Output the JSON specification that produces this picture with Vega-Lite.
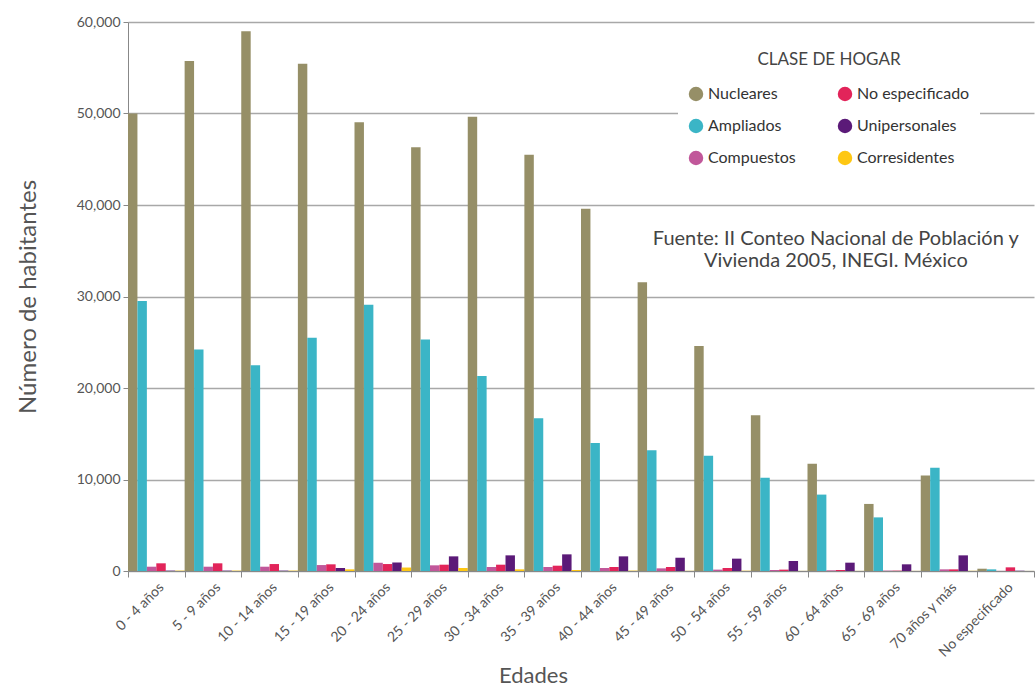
{
  "$schema": "https://vega.github.io/schema/vega-lite/v6.json",
  "width": 906,
  "height": 549,
  "autosize": {"type": "none"},
  "padding": {"left": 128, "top": 22, "right": 2, "bottom": 118},
  "background": "white",
  "config": {"view": {"stroke": null}, "font": "Lato"},
  "data": {
    "values": [
      {"edad": "0 - 4 años", "clase": "Nucleares", "n": 50000},
      {"edad": "0 - 4 años", "clase": "Ampliados", "n": 29500},
      {"edad": "0 - 4 años", "clase": "Compuestos", "n": 470},
      {"edad": "0 - 4 años", "clase": "No especificado", "n": 840},
      {"edad": "0 - 4 años", "clase": "Unipersonales", "n": 40},
      {"edad": "0 - 4 años", "clase": "Corresidentes", "n": 40},
      {"edad": "5 - 9 años", "clase": "Nucleares", "n": 55750},
      {"edad": "5 - 9 años", "clase": "Ampliados", "n": 24200},
      {"edad": "5 - 9 años", "clase": "Compuestos", "n": 470},
      {"edad": "5 - 9 años", "clase": "No especificado", "n": 840},
      {"edad": "5 - 9 años", "clase": "Unipersonales", "n": 40},
      {"edad": "5 - 9 años", "clase": "Corresidentes", "n": 40},
      {"edad": "10 - 14 años", "clase": "Nucleares", "n": 59000},
      {"edad": "10 - 14 años", "clase": "Ampliados", "n": 22500},
      {"edad": "10 - 14 años", "clase": "Compuestos", "n": 470},
      {"edad": "10 - 14 años", "clase": "No especificado", "n": 760},
      {"edad": "10 - 14 años", "clase": "Unipersonales", "n": 40},
      {"edad": "10 - 14 años", "clase": "Corresidentes", "n": 40},
      {"edad": "15 - 19 años", "clase": "Nucleares", "n": 55450},
      {"edad": "15 - 19 años", "clase": "Ampliados", "n": 25500},
      {"edad": "15 - 19 años", "clase": "Compuestos", "n": 650},
      {"edad": "15 - 19 años", "clase": "No especificado", "n": 730},
      {"edad": "15 - 19 años", "clase": "Unipersonales", "n": 330},
      {"edad": "15 - 19 años", "clase": "Corresidentes", "n": 180},
      {"edad": "20 - 24 años", "clase": "Nucleares", "n": 49050},
      {"edad": "20 - 24 años", "clase": "Ampliados", "n": 29100},
      {"edad": "20 - 24 años", "clase": "Compuestos", "n": 900},
      {"edad": "20 - 24 años", "clase": "No especificado", "n": 760},
      {"edad": "20 - 24 años", "clase": "Unipersonales", "n": 930},
      {"edad": "20 - 24 años", "clase": "Corresidentes", "n": 380},
      {"edad": "25 - 29 años", "clase": "Nucleares", "n": 46300},
      {"edad": "25 - 29 años", "clase": "Ampliados", "n": 25300},
      {"edad": "25 - 29 años", "clase": "Compuestos", "n": 620},
      {"edad": "25 - 29 años", "clase": "No especificado", "n": 690},
      {"edad": "25 - 29 años", "clase": "Unipersonales", "n": 1600},
      {"edad": "25 - 29 años", "clase": "Corresidentes", "n": 330},
      {"edad": "30 - 34 años", "clase": "Nucleares", "n": 49640},
      {"edad": "30 - 34 años", "clase": "Ampliados", "n": 21300},
      {"edad": "30 - 34 años", "clase": "Compuestos", "n": 440},
      {"edad": "30 - 34 años", "clase": "No especificado", "n": 690},
      {"edad": "30 - 34 años", "clase": "Unipersonales", "n": 1710},
      {"edad": "30 - 34 años", "clase": "Corresidentes", "n": 180},
      {"edad": "35 - 39 años", "clase": "Nucleares", "n": 45490},
      {"edad": "35 - 39 años", "clase": "Ampliados", "n": 16700},
      {"edad": "35 - 39 años", "clase": "Compuestos", "n": 440},
      {"edad": "35 - 39 años", "clase": "No especificado", "n": 580},
      {"edad": "35 - 39 años", "clase": "Unipersonales", "n": 1820},
      {"edad": "35 - 39 años", "clase": "Corresidentes", "n": 110},
      {"edad": "40 - 44 años", "clase": "Nucleares", "n": 39580},
      {"edad": "40 - 44 años", "clase": "Ampliados", "n": 14000},
      {"edad": "40 - 44 años", "clase": "Compuestos", "n": 330},
      {"edad": "40 - 44 años", "clase": "No especificado", "n": 440},
      {"edad": "40 - 44 años", "clase": "Unipersonales", "n": 1600},
      {"edad": "40 - 44 años", "clase": "Corresidentes", "n": 40},
      {"edad": "45 - 49 años", "clase": "Nucleares", "n": 31570},
      {"edad": "45 - 49 años", "clase": "Ampliados", "n": 13200},
      {"edad": "45 - 49 años", "clase": "Compuestos", "n": 290},
      {"edad": "45 - 49 años", "clase": "No especificado", "n": 440},
      {"edad": "45 - 49 años", "clase": "Unipersonales", "n": 1450},
      {"edad": "45 - 49 años", "clase": "Corresidentes", "n": 20},
      {"edad": "50 - 54 años", "clase": "Nucleares", "n": 24600},
      {"edad": "50 - 54 años", "clase": "Ampliados", "n": 12600},
      {"edad": "50 - 54 años", "clase": "Compuestos", "n": 150},
      {"edad": "50 - 54 años", "clase": "No especificado", "n": 330},
      {"edad": "50 - 54 años", "clase": "Unipersonales", "n": 1350},
      {"edad": "50 - 54 años", "clase": "Corresidentes", "n": 30},
      {"edad": "55 - 59 años", "clase": "Nucleares", "n": 17030},
      {"edad": "55 - 59 años", "clase": "Ampliados", "n": 10190},
      {"edad": "55 - 59 años", "clase": "Compuestos", "n": 110},
      {"edad": "55 - 59 años", "clase": "No especificado", "n": 150},
      {"edad": "55 - 59 años", "clase": "Unipersonales", "n": 1090},
      {"edad": "55 - 59 años", "clase": "Corresidentes", "n": 10},
      {"edad": "60 - 64 años", "clase": "Nucleares", "n": 11720},
      {"edad": "60 - 64 años", "clase": "Ampliados", "n": 8350},
      {"edad": "60 - 64 años", "clase": "Compuestos", "n": 70},
      {"edad": "60 - 64 años", "clase": "No especificado", "n": 110},
      {"edad": "60 - 64 años", "clase": "Unipersonales", "n": 910},
      {"edad": "60 - 64 años", "clase": "Corresidentes", "n": 10},
      {"edad": "65 - 69 años", "clase": "Nucleares", "n": 7330},
      {"edad": "65 - 69 años", "clase": "Ampliados", "n": 5860},
      {"edad": "65 - 69 años", "clase": "Compuestos", "n": 40},
      {"edad": "65 - 69 años", "clase": "No especificado", "n": 40},
      {"edad": "65 - 69 años", "clase": "Unipersonales", "n": 730},
      {"edad": "65 - 69 años", "clase": "Corresidentes", "n": 10},
      {"edad": "70 años y más", "clase": "Nucleares", "n": 10440},
      {"edad": "70 años y más", "clase": "Ampliados", "n": 11280},
      {"edad": "70 años y más", "clase": "Compuestos", "n": 180},
      {"edad": "70 años y más", "clase": "No especificado", "n": 180},
      {"edad": "70 años y más", "clase": "Unipersonales", "n": 1710},
      {"edad": "70 años y más", "clase": "Corresidentes", "n": 20},
      {"edad": "No especificado", "clase": "Nucleares", "n": 250},
      {"edad": "No especificado", "clase": "Ampliados", "n": 180},
      {"edad": "No especificado", "clase": "Compuestos", "n": 10},
      {"edad": "No especificado", "clase": "No especificado", "n": 400},
      {"edad": "No especificado", "clase": "Unipersonales", "n": 30},
      {"edad": "No especificado", "clase": "Corresidentes", "n": 5}
    ]
  },
  "layer": [
    {
      "mark": {"type": "bar"},
      "encoding": {
        "x": {
          "field": "edad",
          "type": "nominal",
          "sort": null,
          "scale": {"paddingInner": 0, "paddingOuter": 0},
          "axis": {
            "title": "Edades",
            "labelAngle": -45,
            "tickBand": "extent",
            "domainColor": "#888888",
            "tickColor": "#888888",
            "tickSize": 6,
            "labelFontSize": 14,
            "labelColor": "#555555",
            "labelPadding": 3,
            "titleFontSize": 22,
            "titleFontWeight": "normal",
            "titleColor": "#555555",
            "titleX": 405,
            "titleY": 104,
            "titleAlign": "center",
            "titleBaseline": "middle"
          }
        },
        "xOffset": {
          "field": "clase",
          "type": "nominal",
          "sort": ["Nucleares", "Ampliados", "Compuestos", "No especificado", "Unipersonales", "Corresidentes"],
          "scale": {"paddingInner": 0, "paddingOuter": 0}
        },
        "y": {
          "field": "n",
          "type": "quantitative",
          "scale": {"domain": [0, 60000], "nice": false},
          "axis": {
            "title": "Número de habitantes",
            "format": ",d",
            "values": [0, 10000, 20000, 30000, 40000, 50000, 60000],
            "grid": true,
            "gridColor": "#a8a8a8",
            "gridWidth": 1.5,
            "domainColor": "#888888",
            "tickColor": "#888888",
            "tickSize": 5,
            "labelFontSize": 14,
            "labelColor": "#555555",
            "labelPadding": 3,
            "titleFontSize": 24,
            "titleFontWeight": "normal",
            "titleColor": "#555555",
            "titlePadding": 36
          }
        },
        "color": {
          "field": "clase",
          "type": "nominal",
          "scale": {
            "domain": ["Nucleares", "Ampliados", "Compuestos", "No especificado", "Unipersonales", "Corresidentes"],
            "range": ["#968f67", "#3bb5c6", "#c1579a", "#e2245a", "#5b1a78", "#fec713"]
          },
          "legend": {
            "orient": "none",
            "legendX": 550,
            "legendY": 20,
            "columns": 2,
            "gridAlign": "all",
            "title": "CLASE DE HOGAR",
            "titleFontSize": 17,
            "titleFontWeight": "normal",
            "titleColor": "#444444",
            "titleAnchor": "middle",
            "titlePadding": 17,
            "symbolType": "circle",
            "symbolSize": 210,
            "symbolStrokeWidth": 0,
            "symbolOpacity": 1,
            "labelFontSize": 16,
            "labelColor": "#333333",
            "labelOffset": 4,
            "rowPadding": 16,
            "columnPadding": 16,
            "fillColor": "white",
            "padding": 10
          }
        }
      }
    },
    {
      "data": {"values": [{}]},
      "mark": {"type": "text", "align": "center", "baseline": "middle", "fontSize": 20, "color": "#444444", "lineHeight": 22},
      "encoding": {
        "x": {"datum": "60 - 64 años"},
        "y": {"datum": 36300},
        "text": {"value": ["Fuente: II Conteo Nacional de Población y", "Vivienda 2005, INEGI. México"]}
      }
    }
  ]
}
